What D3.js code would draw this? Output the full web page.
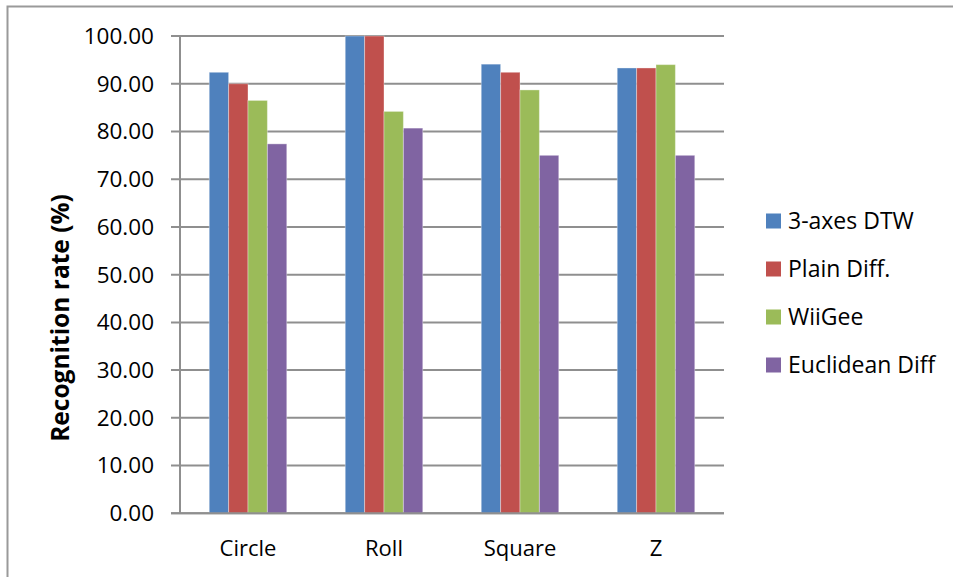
<!DOCTYPE html>
<html>
<head>
<meta charset="utf-8">
<script src="https://cdn.jsdelivr.net/npm/d3@7"></script>
<style>
  html, body { margin: 0; padding: 0; background: #fff; }
  svg { display: block; font-family: "Open Sans", "Noto Sans", sans-serif; }
</style>
</head>
<body>
<svg id="chart" width="953" height="577"></svg>
<script>
// Gesture categories and recognition rates (%) per method
const categories = ["Circle", "Roll", "Square", "Z"];
const seriesNames = ["3-axes DTW", "Plain Diff.", "WiiGee", "Euclidean Diff"];
const dtw3axes   = [92.4, 100.0, 94.1, 93.3];
const plainDiff  = [90.0, 100.0, 92.4, 93.3];
const wiigee     = [86.5, 84.2, 88.7, 94.0];
const euclidDiff = [77.4, 80.7, 75.0, 75.0];
const yTicks = [0, 10, 20, 30, 40, 50, 60, 70, 80, 90, 100];
const colors = ["#4F81BD", "#C0504D", "#9BBB59", "#8064A2"];

const seriesValues = [dtw3axes, plainDiff, wiigee, euclidDiff];
const rows = categories.map((c, i) => ({
  category: c,
  values: seriesNames.map((s, j) => ({ series: s, idx: j, value: seriesValues[j][i] }))
}));

const svg = d3.select("#chart");
const W = 953, H = 577;

// outer chart frame
svg.append("rect")
  .attr("x", 7.5).attr("y", 6.5)
  .attr("width", W + 10).attr("height", H + 10)
  .attr("fill", "none").attr("stroke", "#9a9a9a").attr("stroke-width", 2);

const plot = { left: 180, right: 724, top: 36, bottom: 513.3 };

const x0 = d3.scaleBand().domain(categories)
  .range([plot.left, plot.right]).paddingInner(0.43).paddingOuter(0.215);
const x1 = d3.scaleBand().domain(seriesNames).range([0, x0.bandwidth()]);
const y = d3.scaleLinear().domain([0, 100]).range([plot.bottom, plot.top]);

// horizontal gridlines
svg.append("g").selectAll("line").data(yTicks).join("line")
  .attr("x1", plot.left - 9).attr("x2", plot.right)
  .attr("y1", d => y(d)).attr("y2", d => y(d))
  .attr("stroke", "#8f8f8f").attr("stroke-width", 2);

// y axis line
svg.append("line")
  .attr("x1", plot.left).attr("x2", plot.left)
  .attr("y1", plot.top).attr("y2", plot.bottom)
  .attr("stroke", "#8f8f8f").attr("stroke-width", 2);

// y tick labels
svg.append("g").selectAll("text").data(yTicks).join("text")
  .attr("x", plot.left - 26).attr("y", d => y(d))
  .attr("dy", "0.35em").attr("text-anchor", "end")
  .attr("font-size", 22.5).attr("fill", "#000")
  .text(d => d3.format(".2f")(d));

// bars
const groups = svg.append("g").selectAll("g").data(rows).join("g")
  .attr("transform", d => `translate(${x0(d.category)},0)`);
groups.selectAll("rect").data(d => d.values).join("rect")
  .attr("x", d => x1(d.series))
  .attr("width", x1.bandwidth())
  .attr("y", d => y(d.value))
  .attr("height", d => y(0) - y(d.value))
  .attr("fill", d => colors[d.idx])
  .attr("stroke", "rgba(255,255,255,0.35)").attr("stroke-width", 1);

// redraw baseline over the bars
svg.append("line")
  .attr("x1", plot.left - 9).attr("x2", plot.right)
  .attr("y1", y(0)).attr("y2", y(0))
  .attr("stroke", "#8f8f8f").attr("stroke-width", 2);

// category labels
svg.append("g").selectAll("text").data(categories).join("text")
  .attr("x", d => x0(d) + x0.bandwidth() / 2).attr("y", 556)
  .attr("text-anchor", "middle").attr("font-size", 22).attr("fill", "#000")
  .text(d => d);

// y axis title
svg.append("text")
  .attr("transform", "translate(69,318) rotate(-90)")
  .attr("text-anchor", "middle").attr("font-size", 24.5).attr("font-weight", "bold")
  .attr("fill", "#000")
  .text("Recognition rate (%)");

// legend
const legend = svg.append("g").selectAll("g").data(seriesNames).join("g")
  .attr("transform", (d, i) => `translate(766,${221 + i * 48})`);
legend.append("rect")
  .attr("x", 0).attr("y", -7.5).attr("width", 15).attr("height", 15)
  .attr("fill", (d, i) => colors[i]);
legend.append("text")
  .attr("x", 22).attr("y", 0).attr("dy", "0.35em")
  .attr("font-size", 23).attr("fill", "#000")
  .text(d => d);
</script>
</body>
</html>
